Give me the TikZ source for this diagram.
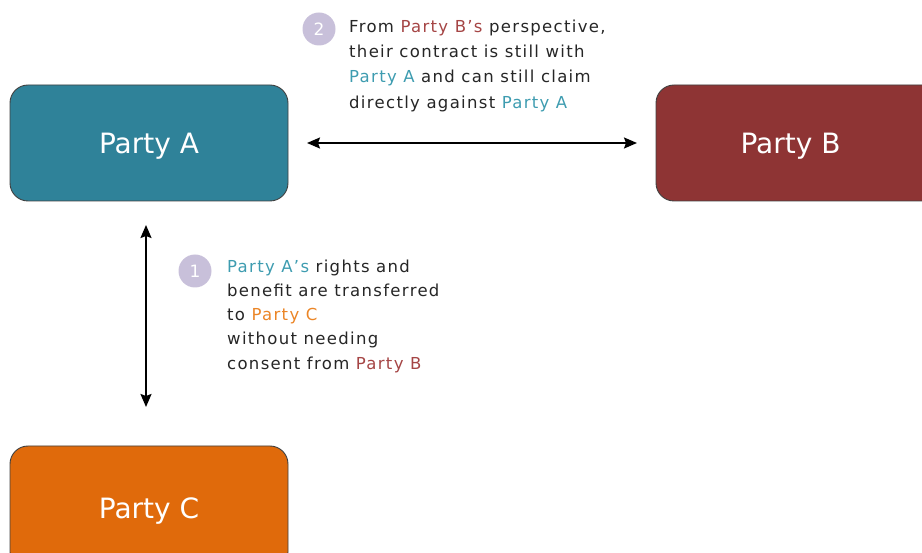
\documentclass[tikz,border=0pt]{standalone}
\usepackage{fontspec}
\setmainfont{DejaVu Sans}
\usetikzlibrary{arrows.meta}
\definecolor{pa}{HTML}{2F8299}
\definecolor{pb}{HTML}{8E3434}
\definecolor{pc}{HTML}{E06A0B}
\definecolor{ta}{HTML}{3E9CB0}
\definecolor{tb}{HTML}{A54545}
\definecolor{tc}{HTML}{EB8526}
\definecolor{txt}{HTML}{262626}
\definecolor{lav}{HTML}{C8C0DA}
\begin{document}
\begin{tikzpicture}[x=1pt,y=-1pt,
  party/.style={draw=black!75,line width=0.9pt,rounded corners=18pt,minimum width=278pt,minimum height=116pt,
    text=white,font=\fontsize{28}{30}\selectfont,inner sep=0pt,text depth=0pt},
  conn/.style={line width=1.8pt,{Stealth[length=13pt,width=11pt,inset=2pt]}-{Stealth[length=13pt,width=11pt,inset=2pt]}},
  num/.style={circle,fill=lav,text=white,minimum size=33pt,inner sep=0pt,font=\fontsize{17}{17}\selectfont},
  note/.style={align=left,text=txt,inner sep=0pt,anchor=north west}
]
\useasboundingbox (0,0) rectangle (922,553);
\clip (0,0) rectangle (922,553);
\node[party,fill=pa] (A) at (149,143) {Party A\hspace{9pt}};
\node[party,fill=pb,minimum width=290pt] (B) at (801,143) {\hspace{-21pt}Party B};
\node[party,fill=pc,minimum height=124pt] (C) at (149,508) {Party C\hspace{9pt}};
\coordinate (h1) at (307,143);
\coordinate (h2) at (637,143);
\coordinate (v1) at (146,225);
\coordinate (v2) at (146,407);
\draw[conn] (h1) -- (h2);
\draw[conn] (v1) -- (v2);
\node[num] (n2) at (319,29) {2};
\node[num] (n1) at (195,271) {1};
\node[note,font=\fontsize{16.5}{25.3}\selectfont\addfontfeatures{LetterSpace=8}] (t2) at (349,19.5) {From \textcolor{tb}{Party B’s} perspective,\\their contract is still with\\\textcolor{ta}{Party A} and can still claim\\directly against \textcolor{ta}{Party A}};
\node[note,font=\fontsize{16.5}{24.2}\selectfont\addfontfeatures{LetterSpace=8}] (t1) at (227,259.5) {\textcolor{ta}{Party A’s} rights and\\benefit are transferred\\to \textcolor{tc}{Party C}\\without needing\\consent from \textcolor{tb}{Party B}};
\end{tikzpicture}
\end{document}
